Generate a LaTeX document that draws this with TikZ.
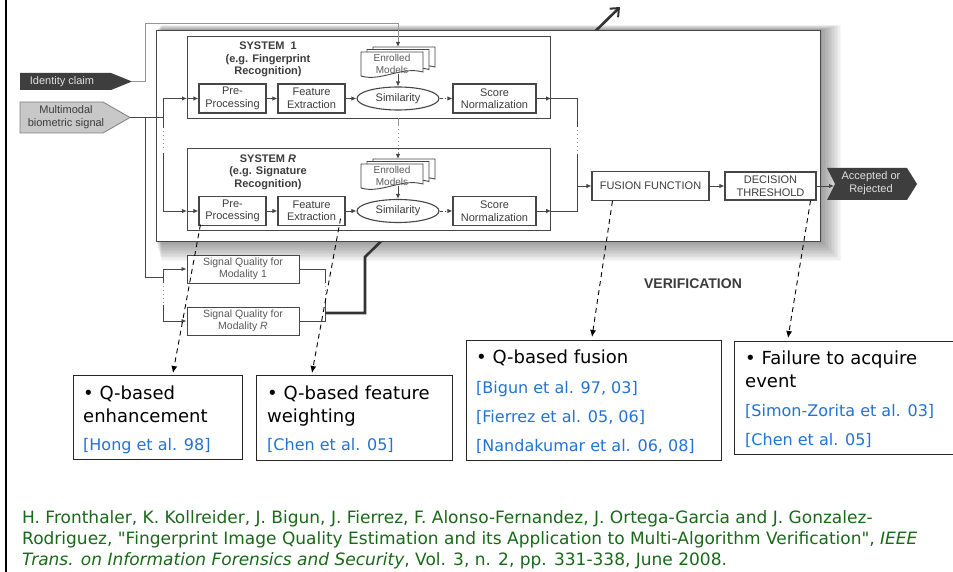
\documentclass[tikz,border=0pt]{standalone}
\usepackage{fontspec}
\setmainfont{Liberation Sans}
\newfontfamily\boxfont{DejaVu Sans}
\usetikzlibrary{arrows.meta,shapes.geometric,calc}

\definecolor{ink}{RGB}{60,60,60}
\definecolor{wirecol}{RGB}{70,70,70}
\definecolor{faintcol}{RGB}{150,150,150}
\definecolor{darkfill}{RGB}{62,62,62}
\definecolor{lightfill}{RGB}{200,200,200}
\definecolor{lighttext}{RGB}{225,225,225}
\definecolor{refblue}{RGB}{35,115,210}
\definecolor{refgreen}{RGB}{25,105,25}

\tikzset{
  blk/.style={draw=wirecol, line width=1.1pt, fill=white, inner sep=0pt,
    font=\fontsize{11}{12.5}\selectfont, text=ink, align=center},
  ttl/.style={inner sep=0pt, align=center, text=ink,
    font=\bfseries\fontsize{11}{12.5}\selectfont},
  sqbox/.style={draw=wirecol, line width=1pt, fill=white, inner sep=0pt, align=center,
    text=ink!85, font=\fontsize{10.5}{12.5}\selectfont, minimum width=112, minimum height=28},
  docframe/.style={draw=wirecol, line width=0.9pt, fill=white},
  doclabel/.style={inner sep=0pt, align=center, text=ink!85, font=\fontsize{10}{12}\selectfont},
  wireln/.style={draw=wirecol, line width=0.9pt},
  arr/.style={wireln, -{Latex[length=5pt,width=4.5pt]}},
  faintln/.style={draw=faintcol, line width=0.9pt},
  faintarr/.style={faintln, -{Latex[length=5pt,width=4.5pt,color=wirecol]}},
  dotln/.style={draw=faintcol, line width=1pt, dash pattern=on 1pt off 3pt},
  qarrow/.style={black, line width=0.9pt, dash pattern=on 5pt off 4pt, -{Latex[length=7pt,width=6pt]}},
  qbox/.style={draw=black!85, line width=1.1pt, inner sep=0pt, anchor=north west},
  % multi-line texts are placed by the baseline of their last line
  qtext/.style={anchor=base west, inner sep=0pt, align=left, text=black,
    font=\boxfont\fontsize{18}{23}\selectfont},
  qref/.style={anchor=base west, inner sep=0pt, align=left, text=refblue,
    font=\boxfont\fontsize{16}{29}\selectfont},
}

% stacked document symbol: name, x and y of the front sheet's top-left corner
\newcommand\enrolledstack[3]{%
  \foreach \k in {2,1}{%
    \path[docframe] ({#2+6*\k},{#3-2.5*\k}) -- ++(62,0) -- ++(0,20)
      .. controls ({#2+6*\k+40},{#3-2.5*\k+14}) and ({#2+6*\k+20},{#3-2.5*\k+30}) ..
      ({#2+6*\k},{#3-2.5*\k+24}) -- cycle;
  }%
  \path[docframe] (#2,#3) -- ++(62,0) -- ++(0,20)
    .. controls ({#2+40},{#3+14}) and ({#2+20},{#3+30}) .. (#2,{#3+24}) -- cycle;
  \node[doclabel] (#1) at ({#2+31},{#3+11.5}) {Enrolled\\Models};
  \coordinate (#1-top) at ({#2+37},{#3-5});
  \coordinate (#1-bot) at ({#2+37},{#3+22});
}

\begin{document}
\begin{tikzpicture}[x=1pt,y=-1pt]
\useasboundingbox (0,0) rectangle (953,572);
\clip (0,0) rectangle (953,572);
\fill[white] (0,0) rectangle (953,572);

% slide frame bar on the left
\fill[black] (4.5,0) rectangle (7,572);

% soft shadow of the verification block
\foreach \i in {1,...,14}{
  \fill[black, opacity=0.033] ({156+\i*0.4},{30-\i*0.35}) rectangle ({820+\i*1.5},{241+\i*1.45});
}

% quality measures feeding the whole verification block
\coordinate (qjoin) at (325,313);
\coordinate (qout) at (620,7);
\draw[draw=black!80, line width=2.6pt, -{Straight Barb[length=7pt,width=12pt,line width=2pt]}]
  (qjoin) -- (365,313) -- (365,257) -- (qout);

% verification block
\node[draw=wirecol, line width=1.4pt, fill=white, inner sep=0pt, anchor=north west,
  minimum width=664, minimum height=211] (ver) at (156,30) {};

% inputs
\fill[darkfill] (20,73) -- (111,73) -- (132,81.5) -- (111,90) -- (20,90) -- cycle;
\coordinate (idtip) at (132,81.5);
\node[inner sep=0pt, text=lighttext, font=\fontsize{11}{12}\selectfont] (idc) at (62,81.5) {Identity claim};
\filldraw[fill=lightfill, draw=gray, line width=0.8pt] (20,102) -- (103,102) -- (130,117.5) -- (103,133) -- (20,133) -- cycle;
\coordinate (mmtip) at (130,117.5);
\node[inner sep=0pt, align=center, text=ink, font=\fontsize{11}{13}\selectfont] (mms) at (66,117) {Multimodal\\biometric signal};

% system 1
\node[blk, minimum width=363, minimum height=82, anchor=north west] (sys1) at (187,36) {};
\node[ttl] (t1) at (268,59.5) {SYSTEM\ \ 1\\(e.g. Fingerprint\\Recognition)};
\node[blk, minimum width=67, minimum height=29] (pre1) at (232.5,98.5) {Pre-\\Processing};
\node[blk, minimum width=67, minimum height=29] (fe1) at (311.5,98.5) {Feature\\Extraction};
\node[blk, ellipse, minimum width=82, minimum height=23] (sim1) at (398,98.5) {Similarity};
\node[blk, minimum width=83, minimum height=29] (sn1) at (494.5,98.5) {Score\\Normalization};
\enrolledstack{doc1}{361}{52}

% system R
\node[blk, minimum width=363, minimum height=82, anchor=north west] (sysR) at (187,148) {};
\node[ttl] (tR) at (268,172) {SYSTEM \textit{R}\\(e.g. Signature\\Recognition)};
\node[blk, minimum width=67, minimum height=29] (preR) at (232.5,211) {Pre-\\Processing};
\node[blk, minimum width=67, minimum height=29] (feR) at (311.5,211) {Feature\\Extraction};
\node[blk, ellipse, minimum width=82, minimum height=23] (simR) at (398,211) {Similarity};
\node[blk, minimum width=83, minimum height=29] (snR) at (494.5,211) {Score\\Normalization};
\enrolledstack{docR}{361}{164}

% fusion and decision
\node[blk, minimum width=117, minimum height=29] (fus) at (650.5,186) {FUSION FUNCTION};
\node[blk, minimum width=91, minimum height=28] (dec) at (770.5,186) {DECISION\\THRESHOLD};
\fill[darkfill] (827,168) -- (907,168) -- (917,184) -- (907,200) -- (827,200) -- (835,184) -- cycle;
\coordinate (accnotch) at (834,186);
\node[inner sep=0pt, align=center, text=lighttext, font=\fontsize{11}{12.5}\selectfont] (acc) at (871,183) {Accepted or\\Rejected};

% identity claim to the enrolled models
\draw[faintarr] (idtip) -- (145,81.5) -- (145,23) -- (398,23) -- (doc1-top);
\draw[arr] (doc1-bot) -- (sim1.north);
\draw[faintln] (398,118) -- (398,126);
\draw[dotln] (398,129) -- (398,150);
\draw[faintarr] (398,152) -- (docR-top);
\draw[arr] (docR-bot) -- (simR.north);

% signal to the systems
\draw[wireln] (mmtip) -- (163,117.5);
\draw[wireln] (163,98.5) -- (163,128);
\draw[dotln] (163,131) -- (163,151);
\draw[wireln] (163,153) -- (163,211);
\draw[arr] (163,98.5) -- (sys1.west |- pre1);
\draw[arr] (sys1.west |- pre1) -- (pre1.west);
\draw[arr] (163,211) -- (sysR.west |- preR);
\draw[arr] (sysR.west |- preR) -- (preR.west);

% processing chains
\draw[arr] (pre1) -- (fe1);
\draw[arr] (fe1) -- (sim1);
\draw[wireln, dash pattern=on 3pt off 2pt on 1pt off 2pt, -{Latex[length=5pt,width=4.5pt]}] (sim1) -- (sn1);
\draw[arr] (sn1.east) -- (sys1.east |- sn1);
\draw[arr] (preR) -- (feR);
\draw[arr] (feR) -- (simR);
\draw[wireln, dash pattern=on 3pt off 2pt on 1pt off 2pt, -{Latex[length=5pt,width=4.5pt]}] (simR) -- (snR);
\draw[arr] (snR.east) -- (sysR.east |- snR);

% scores to fusion
\draw[wireln] (sys1.east |- sn1) -- (577,98.5) -- (577,127);
\draw[dotln] (577,130) -- (577,152);
\draw[wireln] (577,154) -- (577,211) -- (sysR.east |- snR);
\draw[arr] (577,186) -- (fus.west);
\draw[arr] (fus) -- (dec);
\draw[arr] (dec.east) -- (accnotch);

% signal quality estimation
\node[sqbox] (sq1) at (243,269) {Signal Quality for\\Modality 1};
\node[sqbox] (sqR) at (243,321) {Signal Quality for\\Modality \textit{R}};
\draw[wireln] (145,117.5) -- (145,277) -- (163,277);
\draw[wireln] (163,269) -- (163,283);
\draw[dotln] (163,286) -- (163,303);
\draw[wireln] (163,305) -- (163,321);
\draw[arr] (163,269) -- (sq1.west);
\draw[arr] (163,321) -- (sqR.west);
\draw[wireln] (sq1.east) -- (325,269) -- (325,283);
\draw[dotln] (325,286) -- (325,298);
\draw[wireln] (325,300) -- (325,321) -- (sqR.east);
\draw[draw=black!80, line width=2.6pt] (qjoin) -- (327,313);

\node[inner sep=0pt, text=ink, font=\bfseries\fontsize{14}{16}\selectfont] (vtitle) at (693,284) {VERIFICATION};

% quality-based stages
\node[qbox, minimum width=169, minimum height=84] (qa) at (73,375) {};
\node[qtext] (qa-t) at (83,422) {• Q-based\\enhancement};
\node[qref] (qa-r) at (83,450) {[Hong et al. 98]};

\node[qbox, minimum width=196, minimum height=85] (qb) at (256,375) {};
\node[qtext] (qb-t) at (267,422) {• Q-based feature\\weighting};
\node[qref] (qb-r) at (267,450) {[Chen et al. 05]};

\node[qbox, minimum width=255, minimum height=120] (qc) at (466,340) {};
\node[qtext] (qc-t) at (476,363) {• Q-based fusion};
\node[qref] (qc-r) at (476,451) {[Bigun et al. 97, 03]\\{}[Fierrez et al. 05, 06]\\{}[Nandakumar et al. 06, 08]};

\node[qbox, minimum width=230, minimum height=113] (qd) at (734,341) {};
\node[qtext] (qd-t) at (745,387) {• Failure to acquire\\event};
\node[qref] (qd-r) at (745,445) {[Simon-Zorita et al. 03]\\{}[Chen et al. 05]};

\draw[qarrow] ($(preR.south west)+(2,-1.5)$) -- ($(qa.north west)+(100,-2)$);
\draw[qarrow] ($(feR.south east)+(-5,-7.5)$) -- ($(qb.north west)+(56,-2)$);
\draw[qarrow] ($(fus.south west)+(21,0)$) -- ($(qc.north west)+(126,-3)$);
\draw[qarrow] ($(dec.south east)+(-6,0)$) -- ($(qd.north west)+(54,-3)$);

% reference
\node[anchor=base west, inner sep=0pt, align=left, text=refgreen,
  font=\boxfont\fontsize{17}{21}\selectfont] (cite) at (22,565)
  {H. Fronthaler, K. Kollreider, J. Bigun, J. Fierrez, F. Alonso-Fernandez, J. Ortega-Garcia and J. Gonzalez-\\
   Rodriguez, "Fingerprint Image Quality Estimation and its Application to Multi-Algorithm Verification", \textit{IEEE}\\
   \textit{Trans. on Information Forensics and Security}, Vol. 3, n. 2, pp. 331-338, June 2008.};
\end{tikzpicture}
\end{document}
